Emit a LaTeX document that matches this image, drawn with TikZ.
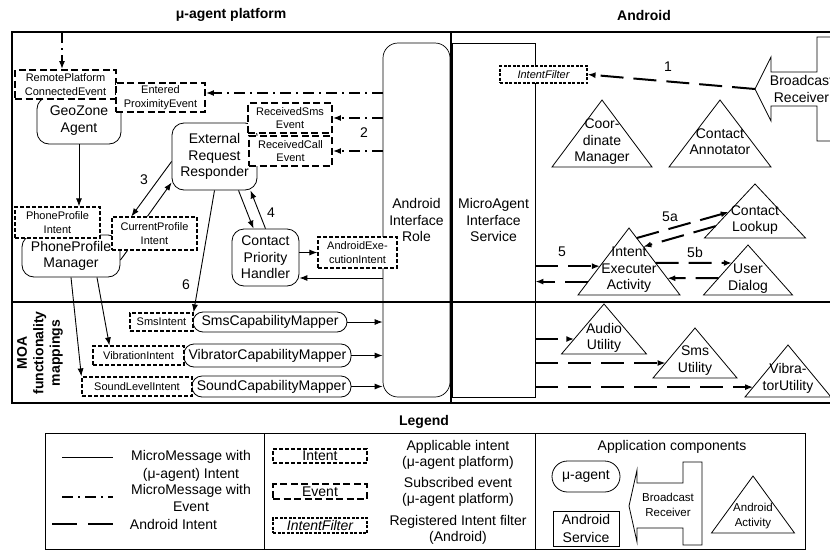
\documentclass[tikz,border=0pt]{standalone}
\usepackage{fontspec}
\setmainfont{Liberation Sans}
\usetikzlibrary{arrows.meta,calc}

\newcommand\normf{\fontsize{14}{16.5}\selectfont}
\newcommand\legf{\fontsize{14}{17.5}\selectfont}
\newcommand\midf{\fontsize{14}{16}\selectfont}
\newcommand\smallf{\fontsize{11}{13.5}\selectfont}
\newcommand\tinyf{\fontsize{11.5}{15}\selectfont}

\newcommand\comptri[8][\normf]{%
        \coordinate (#2-a) at (#3,#4);
        \coordinate (#2-l) at (#3-#5,#4+#6);
        \coordinate (#2-r) at (#3+#5,#4+#6);
        \draw[line width=0.8pt,fill=white] (#2-a) -- (#2-l) -- (#2-r) -- cycle;
        \node[align=center,font=#1,inner sep=0pt] (#2) at (#3,#7) {#8};}

\tikzset{
        wh/.style 2 args={minimum width=#1pt,minimum height=#2pt},
        agent/.style={draw,line width=0.8pt,fill=white,rounded corners=12pt,align=center,inner sep=0pt,font=\normf},
        evbox/.style={draw,fill=white,line width=1.7pt,dash pattern=on 7pt off 3.5pt,align=center,inner sep=0pt,font=\smallf},
        inbox/.style={draw,fill=white,line width=1.2pt,dash pattern=on 4pt off 2pt,align=center,inner sep=0pt,font=\smallf},
        filterbox/.style={draw,fill=white,line width=1.1pt,dash pattern=on 3pt off 1.5pt,inner sep=0pt,font=\smallf\itshape},
        msg/.style={->,line width=0.9pt},
        evline/.style={line width=1.8pt,dash pattern=on 11pt off 5pt on 2pt off 5pt},
        evmsg/.style={evline,->},
        andline/.style={line width=2pt,dash pattern=on 23pt off 10pt},
        andmsg/.style={andline,->},
        lbl/.style={font=\normf,align=center},
        legtxt/.style={font=\legf,align=center},
        ttl/.style={font=\normf\bfseries,align=center}
}

\begin{document}
\begin{tikzpicture}[x=1pt,y=-1pt,>={Latex[length=8pt,width=6pt]}]
        \useasboundingbox (0,0) rectangle (830,552);
        \clip (0,0) rectangle (830,552);
        \node[ttl] (tplat) at (231,15) {μ-agent platform};
        \node[ttl] (tand) at (644,15) {Android};
        \draw[line width=1.2pt] (12,32) rectangle (850,403);
        \draw[line width=1.2pt] (451,32) -- (451,403);
        \draw[line width=1.2pt] (12,302) -- (850,302);
        \node[ttl,rotate=90] (tmoa) at (40,353) {MOA\\functionality\\mappings};

        \node[draw,line width=0.7pt,rounded corners=15pt,wh={67}{354},align=center,font=\normf] (air) at (416.5,220) {Android\\Interface\\Role};
        \node[draw,line width=0.7pt,wh={83}{354},align=center,font=\normf] (mis) at (493.5,220) {MicroAgent\\Interface\\Service};

        \node[agent,wh={84}{47}] (geo) at (79,120.5) {GeoZone\\Agent};
        \node[agent,wh={85}{67}] (err) at (214.5,156.5) {External\\Request\\Responder};
        \node[agent,wh={98}{42}] (ppm) at (71,256) {PhoneProfile\\Manager};
        \node[agent,wh={67}{57}] (cph) at (265.5,257.5) {Contact\\Priority\\Handler};
        \node[agent,rounded corners=10pt,wh={154}{20}] (smsm) at (270,322) {SmsCapabilityMapper};
        \node[agent,rounded corners=10pt,wh={167}{23}] (vibm) at (267.5,355.5) {VibratorCapabilityMapper};
        \node[agent,rounded corners=10pt,wh={159}{21}] (sndm) at (271.5,386.5) {SoundCapabilityMapper};

        \node[evbox,wh={101}{29}] (rpce) at (65.5,84.5) {RemotePlatform\\ConnectedEvent};
        \node[evbox,wh={89}{29}] (epe) at (160.5,97.5) {Entered\\ProximityEvent};
        \node[evbox,wh={84}{30}] (rse) at (290,118) {ReceivedSms\\Event};
        \node[evbox,wh={83}{30}] (rce) at (290.5,151) {ReceivedCall\\Event};
        \node[inbox,wh={85}{31}] (ppi) at (57.5,222.5) {PhoneProfile\\Intent};
        \node[inbox,wh={85}{33}] (cpi) at (154.5,233.5) {CurrentProfile\\Intent};
        \node[inbox,wh={79}{31}] (aei) at (357.5,252.5) {AndroidExe-\\cutionIntent};
        \node[inbox,wh={63}{18}] (smsi) at (161.5,322) {SmsIntent};
        \node[inbox,wh={91}{19}] (vibi) at (138.5,355.5) {VibrationIntent};
        \node[inbox,wh={110}{19}] (sndi) at (137,386.5) {SoundLevelIntent};
        \node[filterbox,wh={87}{17}] (ifl) at (543.5,74.5) {IntentFilter};

        \comptri{cm}{602}{100}{50}{67}{142}{Coor-\\dinate\\Manager}
        \comptri{ca}{720}{100}{51}{67}{141.5}{Contact\\Annotator}
        \comptri{cl}{755}{184}{50.5}{54}{220}{Contact\\Lookup}
        \comptri{iea}{629}{228}{51}{67}{270}{Intent\\Executer\\Activity}
        \comptri{ud}{748}{245}{44.5}{50}{278.5}{User\\Dialog}
        \comptri{au}{604}{304}{42.5}{50}{338}{Audio\\Utility}
        \comptri{su}{695}{328}{42}{50}{360.5}{Sms\\Utility}
        \comptri{vu}{788}{345}{43}{52}{378.5}{Vibra-\\torUtility}

        \draw[line width=0.8pt,fill=white] (755,89) -- (771,57) -- (771,72) -- (817,72) -- (817,37) -- (850,37) -- (850,141) -- (817,141) -- (817,106) -- (771,106) -- (771,121) -- cycle;
        \node[lbl] (br) at (801.5,89) {Broadcast\\Receiver};
        \coordinate (brtip) at (755,89);

        \coordinate (remote) at (62,32);
        \draw[evmsg] (remote) -- (remote |- rpce.north);
        \coordinate (epein) at ([yshift=4.5pt]epe.east);
        \draw[evmsg] (air.west |- epein) -- (epein);
        \draw[evmsg] (air.west |- rse.east) -- (rse.east);
        \draw[evmsg] (air.west |- rce.east) -- (rce.east);
        \node[lbl] (n2) at (364,133) {2};

        \draw[msg] (geo.south) -- (geo.south |- ppi.north);
        \draw[msg] ([yshift=-5pt]err.west) -- ([xshift=20pt]cpi.north west);
        \draw[msg] ([xshift=36pt]cpi.north west) -- ([yshift=-26pt]err.west);
        \node[lbl] (n3) at (144,180) {3};
        \draw[line width=0.9pt] ([yshift=-4pt]ppm.east) -- ([xshift=16pt]cpi.south west);
        \draw[msg] ([xshift=24pt]err.south) -- ([xshift=-12pt]cph.north);
        \draw[msg] (cph.north) -- ([xshift=36pt]err.south);
        \node[lbl] (n4) at (271,213) {4};
        \draw[msg] (err.south) -- (smsi.north east);
        \node[lbl] (n6) at (186,285) {6};
        \draw[msg] (cph.east |- aei.west) -- (aei.west);
        \coordinate (cphin) at ([yshift=-20.5pt]cph.east);
        \draw[msg] (air.west |- cphin) -- (cphin);
        \draw[msg] (ppm.south) -- (sndi.north west);
        \draw[msg] ([xshift=26pt]ppm.south) -- ([xshift=17pt]vibi.north west);
        \draw[msg] (smsm.east) -- (air.west |- smsm.east);
        \draw[msg] (vibm.east) -- (air.west |- vibm.east);
        \draw[msg] (sndm.east) -- (air.west |- sndm.east);

        \draw[andmsg] (brtip) -- (ifl.east);
        \node[lbl] (n1) at (668,67) {1};
        \coordinate (e5) at ($(iea-a)!0.57!(iea-l)$);
        \draw[andmsg] (mis.east |- e5) -- (e5);
        \coordinate (e5r) at ($(iea-a)!0.8!(iea-l)$);
        \draw[andmsg] (e5r) -- (mis.east |- e5r);
        \node[lbl] (n5) at (562,252) {5};
        \draw[andmsg] ($(iea-a)!0.52!(iea-r)$) -- ($(ud-a)!0.36!(ud-l)$);
        \draw[andmsg] ($(ud-a)!0.66!(ud-l)$) -- ($(iea-a)!0.75!(iea-r)$);
        \node[lbl] (n5b) at (695,252) {5b};
        \draw[andmsg] ($(iea-a)!0.15!(iea-r)$) -- ($(cl-a)!0.52!(cl-l)$);
        \draw[andmsg] ($(cl-a)!0.78!(cl-l)$) -- ($(iea-a)!0.28!(iea-r)$);
        \node[lbl] (n5a) at (670,217) {5a};
        \coordinate (tau) at ($(au-a)!0.7!(au-l)$);
        \draw[andmsg] (mis.east |- tau) -- (tau);
        \coordinate (tsu) at ($(su-a)!0.7!(su-l)$);
        \draw[andmsg] (mis.east |- tsu) -- (tsu);
        \coordinate (tvu) at ($(vu-a)!0.81!(vu-l)$);
        \draw[andmsg] (mis.east |- tvu) -- (tvu);

        \node[ttl] (tleg) at (424,422) {Legend};
        \draw[line width=0.9pt] (45,433) rectangle (805,549);
        \draw[line width=0.9pt] (264,433) -- (264,549);
        \draw[line width=0.9pt] (535,433) -- (535,549);
        \draw[line width=0.9pt] (62,457) -- (113,457);
        \draw[evline] (62,497) -- (113,497);
        \draw[andline,dash pattern=on 25pt off 11pt] (52,524) -- (113,524);
        \node[legtxt] (lt1) at (191,466) {MicroMessage with\\(μ-agent) Intent};
        \node[legtxt] (lt2) at (191,498) {MicroMessage with\\Event};
        \node[legtxt] (lt3) at (173.5,524) {Android Intent};
        \node[inbox,font=\normf,wh={94}{14}] (lin) at (320,456) {Intent};
        \node[evbox,font=\normf,wh={94}{15}] (lev) at (320,491.5) {Event};
        \node[filterbox,font=\normf\itshape,wh={94}{15}] (lif) at (320,525.5) {IntentFilter};
        \node[font=\midf,align=center] (lt4) at (458,455) {Applicable intent\\(μ-agent platform)};
        \node[font=\midf,align=center] (lt5) at (458,492) {Subscribed event\\(μ-agent platform)};
        \node[font=\midf,align=center] (lt6) at (458,530) {Registered Intent filter\\(Android)};
        \node[legtxt] (lt7) at (672,447) {Application components};
        \node[agent,rounded corners=15.5pt,wh={68}{31}] (lag) at (586,476.5) {μ-agent};
        \node[draw,line width=0.9pt,align=center,font=\legf,wh={66}{35},inner sep=0pt] (lsv) at (586,528.5) {Android\\Service};
        \draw[line width=0.8pt] (629,506) -- (637,470) -- (637,483) -- (683,483) -- (683,462) -- (702,462) -- (702,545) -- (683,545) -- (683,528) -- (637,528) -- (637,542) -- cycle;
        \node[font=\tinyf,align=center] (lbr) at (668,504.5) {Broadcast\\Receiver};
        \comptri[\tinyf]{lact}{753}{476}{41.5}{57}{516.5}{Android\\Activity}
\end{tikzpicture}
\end{document}
